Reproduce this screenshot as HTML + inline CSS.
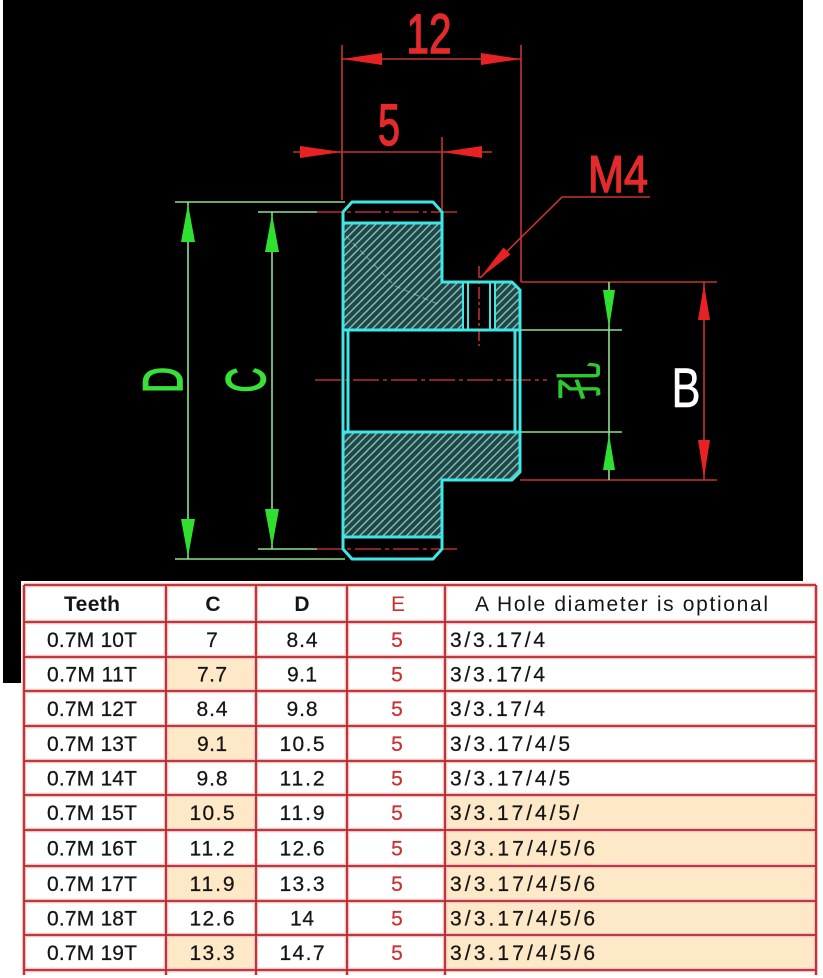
<!DOCTYPE html>
<html>
<head>
<meta charset="utf-8">
<style>
html,body{margin:0;padding:0;background:#fff;}
svg{display:block;}
</style>
</head>
<body>
<svg width="823" height="978" viewBox="0 0 823 978" xmlns="http://www.w3.org/2000/svg">
<defs>
<pattern id="hatch" patternUnits="userSpaceOnUse" width="5.5" height="5.5" patternTransform="rotate(45)">
<rect width="5.5" height="5.5" fill="#224645"/>
<line x1="0.8" y1="0" x2="0.8" y2="5.5" stroke="#80c4bf" stroke-width="1.4"/>
</pattern>
</defs>
<rect x="0" y="0" width="823" height="978" fill="#ffffff"/>
<rect x="3" y="0" width="800" height="683" fill="#000000"/>

<!-- hatched regions -->
<path d="M343 223 L442 223 L442 282 L463 282 L463 330 L343 330 Z" fill="url(#hatch)"/>
<path d="M495 282 L512 282 L520 290 L520 330 L495 330 Z" fill="url(#hatch)"/>
<path d="M343 432 L520 432 L520 472 L512 480 L442 480 L442 537 L343 537 Z" fill="url(#hatch)"/>
<path d="M346 236 L395 286 L440 305" fill="none" stroke="#9ee0dc" stroke-width="1" stroke-dasharray="6 4" opacity="0.6"/>

<!-- red dashed / center lines -->
<g stroke="#b83030" stroke-width="1.6" fill="none">
<line x1="317" y1="212" x2="458" y2="212" stroke-dasharray="26 4 4 4"/>
<line x1="317" y1="549" x2="458" y2="549" stroke-dasharray="26 4 4 4"/>
<line x1="315" y1="380" x2="547" y2="380" stroke-dasharray="26 4 4 4"/>
<line x1="479" y1="266" x2="479" y2="346" stroke-dasharray="12 3 3 3"/>
</g>

<!-- cyan outlines -->
<g stroke="#3ee6e6" stroke-width="3" fill="none" stroke-linejoin="round">
<path d="M352 202 L433 202 L442 212 L442 282 L512 282 L520 290 L520 472 L512 480 L442 480 L442 549 L433 559 L352 559 L343 549 L343 212 Z"/>
<line x1="343" y1="223" x2="442" y2="223"/>
<line x1="343" y1="537" x2="442" y2="537"/>
<line x1="343" y1="330" x2="520" y2="330"/>
<line x1="343" y1="432" x2="520" y2="432"/>
<line x1="348" y1="330" x2="348" y2="432"/>
<line x1="515" y1="330" x2="515" y2="432"/>
</g>
<g stroke="#3ee6e6" stroke-width="2" fill="none">
<line x1="463" y1="282" x2="463" y2="330"/>
<line x1="468" y1="282" x2="468" y2="330"/>
<line x1="490" y1="282" x2="490" y2="330"/>
<line x1="495" y1="282" x2="495" y2="330"/>
</g>

<!-- red dimension lines -->
<g stroke="#c23434" stroke-width="1.6" fill="none">
<line x1="342" y1="45" x2="342" y2="200"/>
<line x1="521" y1="45" x2="521" y2="282"/>
<line x1="342" y1="59" x2="521" y2="59"/>
<line x1="442" y1="137" x2="442" y2="210"/>
<line x1="293" y1="152" x2="492" y2="152"/>
<polyline points="480,278 562,197 650,197"/>
<line x1="521" y1="282" x2="717" y2="282"/>
<line x1="520" y1="480" x2="717" y2="480"/>
<line x1="704" y1="282" x2="704" y2="480"/>
</g>

<!-- green dimension lines -->
<g stroke="#8fe08f" stroke-width="1.6" fill="none">
<line x1="175" y1="202" x2="345" y2="202"/>
<line x1="175" y1="559" x2="345" y2="559"/>
<line x1="188" y1="202" x2="188" y2="559"/>
<line x1="258" y1="212" x2="317" y2="212"/>
<line x1="258" y1="549" x2="317" y2="549"/>
<line x1="272" y1="212" x2="272" y2="549"/>
<line x1="520" y1="330" x2="622" y2="330"/>
<line x1="520" y1="432" x2="622" y2="432"/>
<line x1="609" y1="282" x2="609" y2="480"/>
</g>

<!-- red arrows -->
<g fill="#e82222">
<polygon points="342,59 382,53 382,65"/>
<polygon points="521,59 481,53 481,65"/>
<polygon points="342,152 300,146 300,158"/>
<polygon points="442,152 482,146 482,158"/>
<polygon points="480,278 510.5,254.5 503.5,247.5"/>
<polygon points="704,284 698,320 710,320"/>
<polygon points="704,478 698,440 710,440"/>
</g>

<!-- green arrows -->
<g fill="#30e030">
<polygon points="188,204 181,242 195,242"/>
<polygon points="188,557 181,519 195,519"/>
<polygon points="272,214 265,252 279,252"/>
<polygon points="272,547 265,509 279,509"/>
<polygon points="609,328 603,290 615,290"/>
<polygon points="609,434 603,470 615,470"/>
</g>

<!-- drawing texts -->
<g font-family="'Liberation Sans', sans-serif" fill="#e42a2a" stroke="#e42a2a" stroke-width="1.4">
<text x="429" y="53" font-size="56" text-anchor="middle" textLength="45" lengthAdjust="spacingAndGlyphs">12</text>
<text x="389" y="145" font-size="58" text-anchor="middle" textLength="22" lengthAdjust="spacingAndGlyphs">5</text>
<text x="618" y="192" font-size="52" text-anchor="middle" textLength="60" lengthAdjust="spacingAndGlyphs">M4</text>
</g>
<g font-family="'Liberation Sans', sans-serif" fill="#38e038" stroke="#38e038" stroke-width="1.6">
<text transform="translate(162,380) rotate(-90)" x="0" y="20" font-size="56" text-anchor="middle" textLength="26" lengthAdjust="spacingAndGlyphs">D</text>
<text transform="translate(245,380) rotate(-90)" x="0" y="20" font-size="56" text-anchor="middle" textLength="25" lengthAdjust="spacingAndGlyphs">C</text>
</g>
<text transform="translate(578,381) rotate(-90)" x="0" y="18" font-family="'Liberation Sans','Noto Sans CJK SC',sans-serif" font-size="48" fill="#30c830" stroke="#30c830" stroke-width="0.6" text-anchor="middle" textLength="38" lengthAdjust="spacingAndGlyphs">孔</text>
<text x="686" y="407" font-family="'Liberation Sans', sans-serif" font-size="56" fill="#ffffff" stroke="#ffffff" stroke-width="0.6" text-anchor="middle" textLength="29" lengthAdjust="spacingAndGlyphs">B</text>

<!-- table -->
<rect x="21" y="581" width="797" height="394" fill="#ffffff"/>
<g fill="#fde8c8">
<rect x="166" y="657" width="90" height="34"/>
<rect x="166" y="726" width="90" height="35"/>
<rect x="166" y="795" width="90" height="35"/>
<rect x="166" y="866" width="90" height="35"/>
<rect x="166" y="935" width="90" height="35"/>
<rect x="445" y="795" width="371" height="175"/>
</g>
<g stroke="#f2c2c2" stroke-width="4.5">
<line x1="24" y1="585" x2="816" y2="585"/>
<line x1="24" y1="622" x2="816" y2="622"/>
<line x1="24" y1="657" x2="816" y2="657"/>
<line x1="24" y1="691" x2="816" y2="691"/>
<line x1="24" y1="726" x2="816" y2="726"/>
<line x1="24" y1="761" x2="816" y2="761"/>
<line x1="24" y1="795" x2="816" y2="795"/>
<line x1="24" y1="830" x2="816" y2="830"/>
<line x1="24" y1="866" x2="816" y2="866"/>
<line x1="24" y1="901" x2="816" y2="901"/>
<line x1="24" y1="935" x2="816" y2="935"/>
<line x1="24" y1="970" x2="816" y2="970"/>
<line x1="24" y1="585" x2="24" y2="975"/>
<line x1="166" y1="585" x2="166" y2="975"/>
<line x1="256" y1="585" x2="256" y2="975"/>
<line x1="347" y1="585" x2="347" y2="975"/>
<line x1="445" y1="585" x2="445" y2="975"/>
<line x1="816" y1="585" x2="816" y2="975"/>
</g>
<g stroke="#b3272b" stroke-width="1.8">
<line x1="24" y1="585" x2="816" y2="585"/>
<line x1="24" y1="622" x2="816" y2="622"/>
<line x1="24" y1="657" x2="816" y2="657"/>
<line x1="24" y1="691" x2="816" y2="691"/>
<line x1="24" y1="726" x2="816" y2="726"/>
<line x1="24" y1="761" x2="816" y2="761"/>
<line x1="24" y1="795" x2="816" y2="795"/>
<line x1="24" y1="830" x2="816" y2="830"/>
<line x1="24" y1="866" x2="816" y2="866"/>
<line x1="24" y1="901" x2="816" y2="901"/>
<line x1="24" y1="935" x2="816" y2="935"/>
<line x1="24" y1="970" x2="816" y2="970"/>
<line x1="24" y1="585" x2="24" y2="975"/>
<line x1="166" y1="585" x2="166" y2="975"/>
<line x1="256" y1="585" x2="256" y2="975"/>
<line x1="347" y1="585" x2="347" y2="975"/>
<line x1="445" y1="585" x2="445" y2="975"/>
<line x1="816" y1="585" x2="816" y2="975"/>
</g>

<!-- header text -->
<g font-family="'Liberation Sans', sans-serif" font-size="21">
<text x="92" y="611" font-weight="bold" fill="#151515" text-anchor="middle" textLength="56">Teeth</text>
<text x="213" y="611" font-weight="bold" fill="#151515" text-anchor="middle">C</text>
<text x="302" y="611" font-weight="bold" fill="#151515" text-anchor="middle">D</text>
<text x="398" y="611" fill="#c83232" text-anchor="middle">E</text>
<text x="475" y="611" fill="#151515" textLength="293">A  Hole diameter is optional</text>
</g>

<!-- body text -->
<g font-family="'Liberation Sans', sans-serif" font-size="21" fill="#151515" stroke="#151515" stroke-width="0.25">
<g text-anchor="middle">
<text x="92" y="647" textLength="90">0.7M 10T</text>
<text x="92" y="681.5" textLength="90">0.7M 11T</text>
<text x="92" y="716" textLength="90">0.7M 12T</text>
<text x="92" y="751" textLength="90">0.7M 13T</text>
<text x="92" y="785.5" textLength="90">0.7M 14T</text>
<text x="92" y="820" textLength="90">0.7M 15T</text>
<text x="92" y="855.5" textLength="90">0.7M 16T</text>
<text x="92" y="891" textLength="90">0.7M 17T</text>
<text x="92" y="925.5" textLength="90">0.7M 18T</text>
<text x="92" y="960" textLength="90">0.7M 19T</text>

<text x="212" y="647">7</text>
<text x="212" y="681.5" textLength="30">7.7</text>
<text x="212" y="716" textLength="31">8.4</text>
<text x="212" y="751" textLength="30">9.1</text>
<text x="212" y="785.5" textLength="31">9.8</text>
<text x="212" y="820" textLength="45">10.5</text>
<text x="212" y="855.5" textLength="45">11.2</text>
<text x="212" y="891" textLength="45">11.9</text>
<text x="212" y="925.5" textLength="45">12.6</text>
<text x="212" y="960" textLength="45">13.3</text>

<text x="302" y="647" textLength="31">8.4</text>
<text x="302" y="681.5" textLength="30">9.1</text>
<text x="302" y="716" textLength="31">9.8</text>
<text x="302" y="751" textLength="45">10.5</text>
<text x="302" y="785.5" textLength="45">11.2</text>
<text x="302" y="820" textLength="45">11.9</text>
<text x="302" y="855.5" textLength="45">12.6</text>
<text x="302" y="891" textLength="45">13.3</text>
<text x="302" y="925.5" textLength="24">14</text>
<text x="302" y="960" textLength="45">14.7</text>
</g>
<g text-anchor="middle" fill="#c83232" stroke="#c83232">
<text x="397" y="647">5</text>
<text x="397" y="681.5">5</text>
<text x="397" y="716">5</text>
<text x="397" y="751">5</text>
<text x="397" y="785.5">5</text>
<text x="397" y="820">5</text>
<text x="397" y="855.5">5</text>
<text x="397" y="891">5</text>
<text x="397" y="925.5">5</text>
<text x="397" y="960">5</text>
</g>
<text x="450" y="647" textLength="95">3/3.17/4</text>
<text x="450" y="681.5" textLength="95">3/3.17/4</text>
<text x="450" y="716" textLength="95">3/3.17/4</text>
<text x="450" y="751" textLength="120">3/3.17/4/5</text>
<text x="450" y="785.5" textLength="120">3/3.17/4/5</text>
<text x="450" y="820" textLength="129">3/3.17/4/5/</text>
<text x="450" y="855.5" textLength="145">3/3.17/4/5/6</text>
<text x="450" y="891" textLength="145">3/3.17/4/5/6</text>
<text x="450" y="925.5" textLength="145">3/3.17/4/5/6</text>
<text x="450" y="960" textLength="145">3/3.17/4/5/6</text>
</g>
</svg>
</body>
</html>
